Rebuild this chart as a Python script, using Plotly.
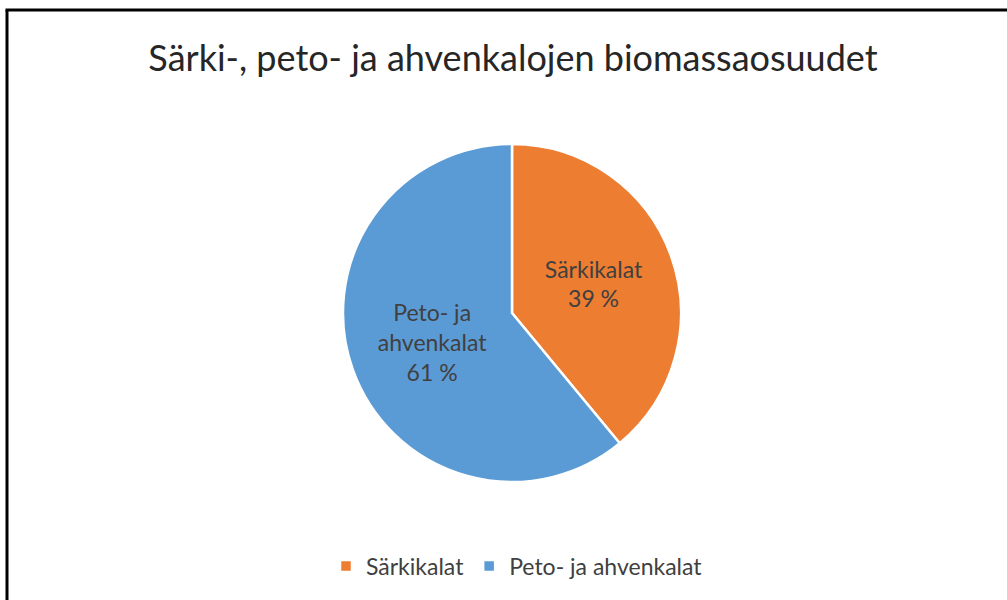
import plotly.graph_objects as go

categories = ["Särkikalat", "Peto- ja ahvenkalat"]
inside_labels = ["Särkikalat", "Peto- ja<br>ahvenkalat"]
shares = [39, 61]
colors = ["#ED7D31", "#5B9BD5"]

W, H = 1007, 600
cx, cy, r = 512, 313, 169

fig = go.Figure(go.Pie(
    labels=categories,
    values=shares,
    text=inside_labels,
    texttemplate="%{text}<br>%{value} %",
    textinfo="text",
    textposition="inside",
    insidetextorientation="horizontal",
    insidetextfont=dict(family="Lato", size=23, color="#404040"),
    sort=False,
    direction="clockwise",
    rotation=0,
    marker=dict(colors=colors, line=dict(color="white", width=2.5)),
    domain=dict(x=[(cx - r) / W, (cx + r) / W], y=[1 - (cy + r) / H, 1 - (cy - r) / H]),
    hoverinfo="label+percent",
))

fig.update_layout(
    width=W, height=H,
    margin=dict(l=0, r=0, t=0, b=0),
    paper_bgcolor="white",
    plot_bgcolor="white",
    title=dict(text="Särki-, peto- ja ahvenkalojen biomassaosuudet",
               x=513 / W, xanchor="center", y=1 - 58 / H, yanchor="middle",
               font=dict(family="Lato", size=36, color="#262626")),
    legend=dict(orientation="h", x=517 / W, xanchor="center", y=1 - 566 / H, yanchor="middle",
                font=dict(family="Lato", size=23, color="#404040"),
                itemwidth=30, traceorder="normal"),
    shapes=[
        dict(type="line", xref="paper", yref="paper", x0=7 / W, x1=7 / W, y0=0, y1=1 - 10 / H,
             line=dict(color="black", width=3)),
        dict(type="line", xref="paper", yref="paper", x0=5.5 / W, x1=1, y0=1 - 10 / H, y1=1 - 10 / H,
             line=dict(color="black", width=3)),
    ],
)

fig.write_html("out.html", config={"displayModeBar": False},
               post_script="document.body.style.margin='0';")
